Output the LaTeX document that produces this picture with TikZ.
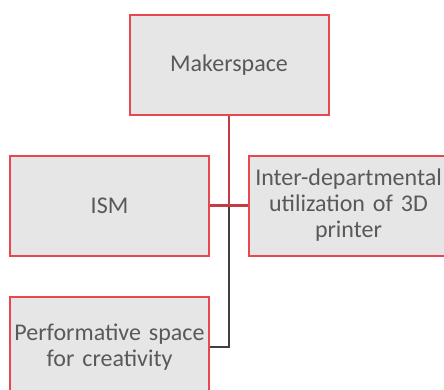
\documentclass[tikz,border=0pt]{standalone}
\usepackage{fontspec}
\setmainfont{Carlito}
\definecolor{boxred}{HTML}{E8474F}
\definecolor{boxfill}{HTML}{E7E6E6}
\definecolor{linkred}{HTML}{C43B43}
\definecolor{linkgrey}{HTML}{404040}
\definecolor{txtgrey}{HTML}{595959}
\begin{document}
\begin{tikzpicture}[x=1pt,y=-1pt,
  orgbox/.style={draw=boxred, fill=boxfill, line width=2pt,
    minimum width=199pt, minimum height=100pt, inner sep=1pt,
    text=txtgrey, align=center, text width=197pt,
    font=\fontsize{24}{27}\selectfont},
  redlink/.style={draw=linkred, line width=2.4pt},
  greylink/.style={draw=linkgrey, line width=2.4pt}]
\useasboundingbox (0,0) rectangle (444,389);
\begin{scope}
\clip (0,0) rectangle (444,389);
\node[orgbox] (maker) at (229,65) {Makerspace};
\node[orgbox] (ism) at (109.5,205.5) {ISM};
\node[orgbox] (inter) at (348.5,205.5) {Inter-departmental\\[-1pt]utilization of 3D\\[-1pt]printer};
\node[orgbox] (perf) at (109.5,347) {Performative space\\[-1pt]for creativity};
% assistant branch to the lower-left box
\coordinate (trunk) at (maker.south |- ism.east);
\draw[greylink] (trunk) |- (perf.east);
% trunk and the two side branches
\draw[redlink] (maker.south) -- (trunk);
\draw[redlink] (ism.east) -- (inter.west);
\end{scope}
\end{tikzpicture}
\end{document}
